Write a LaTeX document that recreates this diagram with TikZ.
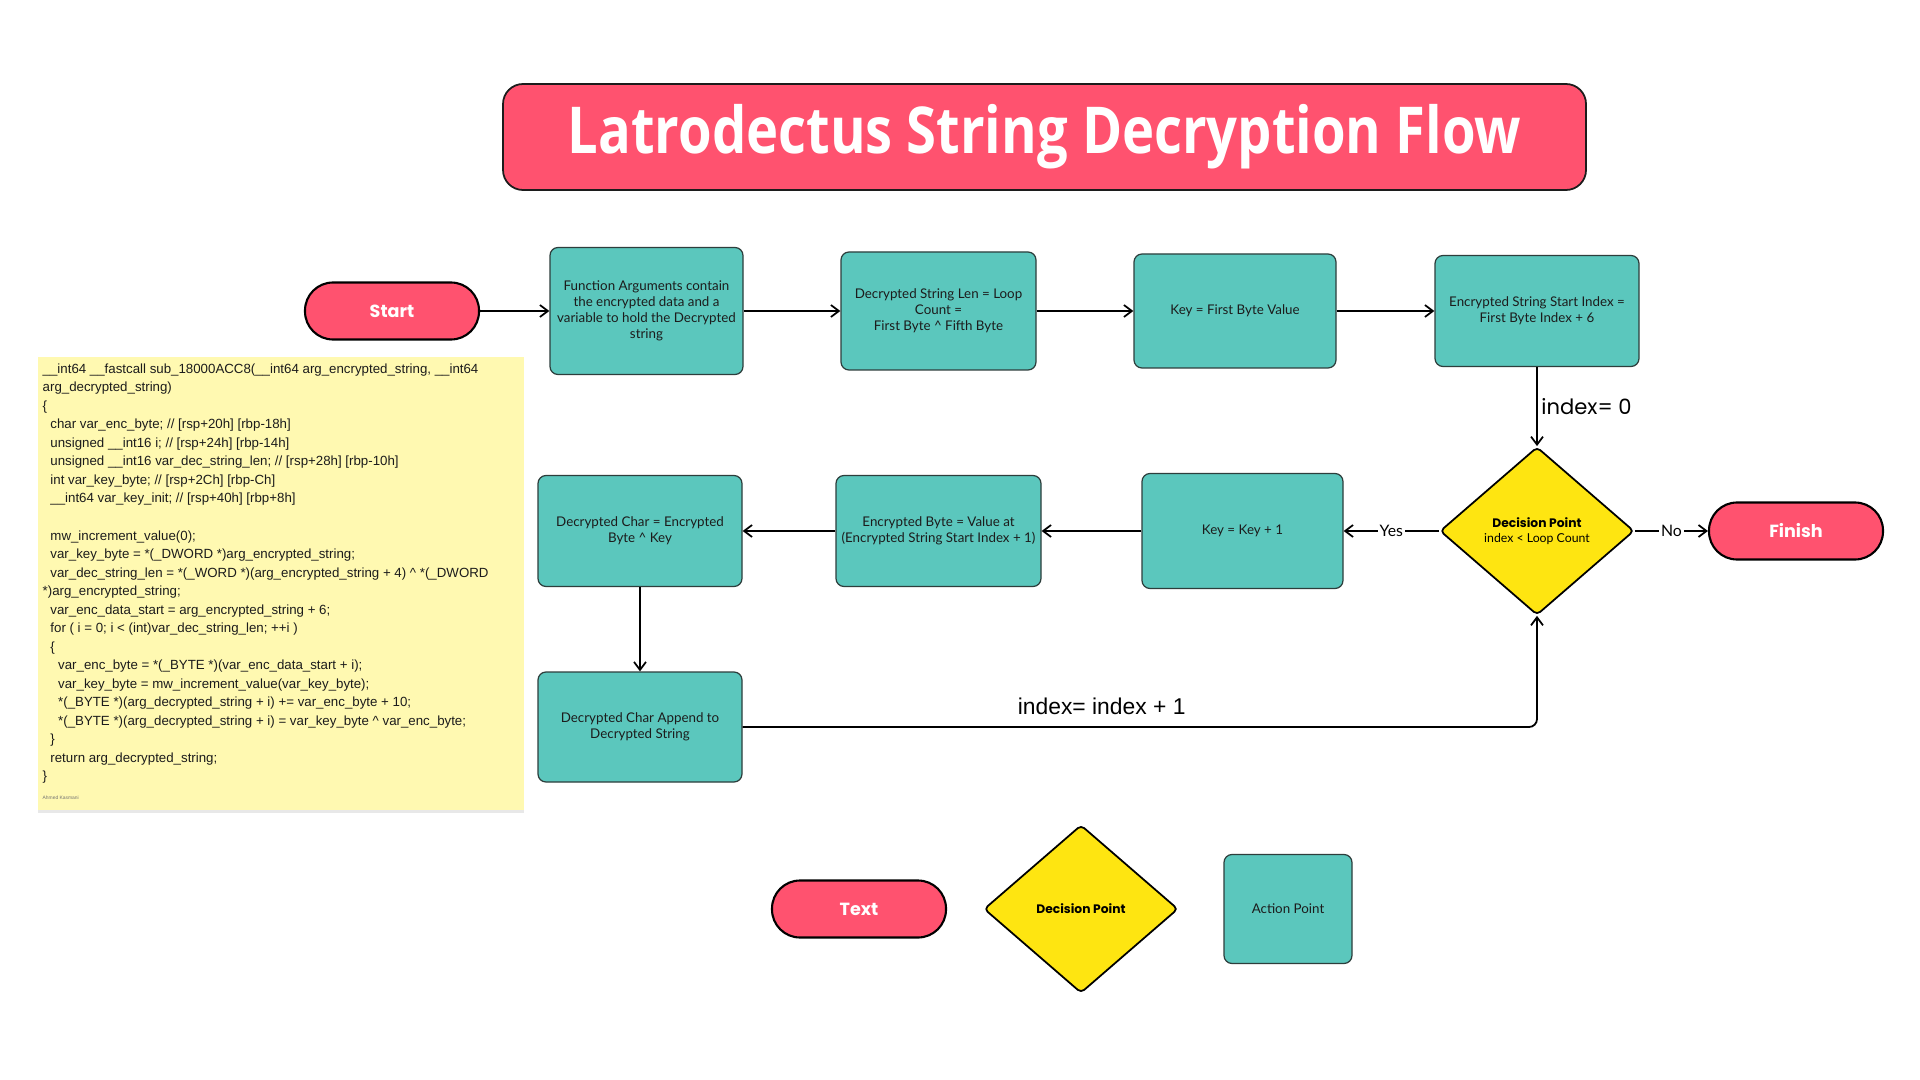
\documentclass[tikz,border=0pt]{standalone}
\usepackage{fontspec}
\setmainfont{Liberation Sans}
\newfontfamily\titlefont{Open Sans}
\newfontfamily\pillfont{Poppins}
\newfontfamily\boxfont{Lato}
\usetikzlibrary{arrows.meta,positioning,shapes.geometric,shadows}
\definecolor{latrored}{RGB}{255,82,111}
\definecolor{latroteal}{RGB}{91,199,189}
\definecolor{latroyellow}{RGB}{254,229,17}
\definecolor{latronote}{RGB}{255,249,177}
\definecolor{latroink}{RGB}{28,28,28}
\definecolor{latroedge}{RGB}{45,62,60}
\newcommand{\crt}{\textasciicircum}
\newcommand{\ind}{\hspace*{2.2pt}}

\begin{document}
\begin{tikzpicture}[
  font=\boxfont,
  pill/.style={draw=black, line width=0.6pt, fill=latrored, text=white, rounded corners=2.8mm,
    minimum width=1.74cm, minimum height=0.57cm, font=\pillfont\bfseries\fontsize{5}{6}\selectfont},
  actbox/.style={draw=latroedge, line width=0.35pt, fill=latroteal, rounded corners=0.8mm, align=center,
    text=latroink, inner sep=1pt, font=\boxfont\fontsize{3.8}{4.55}\selectfont},
  decide/.style={diamond, draw=black, line width=0.5pt, fill=latroyellow, rounded corners=1.2pt,
    minimum width=1.94cm, minimum height=1.68cm, inner sep=0pt, align=center,
    font=\boxfont\fontsize{3.5}{4.4}\selectfont},
  conn/.style={draw=black, line width=0.5pt, -{Straight Barb[length=0.8mm,width=1.2mm]}},
  flowlabel/.style={fill=white, inner sep=0.6pt, font=\boxfont\fontsize{4.5}{5.2}\selectfont},
  notepanel/.style={fill=latronote, minimum width=4.86cm, minimum height=4.53cm, inner sep=0pt,
    drop shadow={shadow xshift=0pt, shadow yshift=-0.8pt, opacity=0.18}},
  codetext/.style={align=left, inner sep=0pt, text=latroink, font=\fontsize{3.78}{5.27}\selectfont}
]
\fill[white] (0,0) rectangle (19.2,-10.8);

\node[draw=latroink, line width=0.5pt, fill=latrored, rounded corners=2mm, minimum width=10.83cm,
  minimum height=1.06cm, text=white] (title) at (10.445,-1.37)
  {\titlefont\bfseries\fontsize{18.4}{20}\selectfont\scalebox{0.84}[1]{Latrodectus String Decryption Flow}};

% top row
\node[pill] (start) at (3.92,-3.11) {Start};
\node[actbox, minimum width=1.93cm, minimum height=1.27cm] (fnargs) at (6.465,-3.11)
  {Function Arguments contain\\the encrypted data and a\\variable to hold the Decrypted\\string};
\node[actbox, minimum width=1.95cm, minimum height=1.18cm] (declen) at (9.385,-3.11)
  {Decrypted String Len = Loop\\Count =\\First Byte \crt{} Fifth Byte};
\node[actbox, minimum width=2.02cm, minimum height=1.14cm] (keyinit) at (12.35,-3.11)
  {Key = First Byte Value};
\node[actbox, minimum width=2.04cm, minimum height=1.11cm] (encstart) at (15.37,-3.11)
  {Encrypted String Start Index =\\First Byte Index + 6};

% loop row
\node[decide] (check) at (15.37,-5.31) {{\pillfont\bfseries Decision Point}\\index < Loop Count};
\node[pill] (finish) at (17.96,-5.31) {Finish};
\node[actbox, minimum width=2.01cm, minimum height=1.15cm] (keyinc) at (12.425,-5.31) {Key = Key + 1};
\node[actbox, minimum width=2.05cm, minimum height=1.11cm] (encbyte) at (9.385,-5.31)
  {Encrypted Byte = Value at\\(Encrypted String Start Index + 1)};
\node[actbox, minimum width=2.04cm, minimum height=1.11cm] (decchar) at (6.40,-5.31)
  {Decrypted Char = Encrypted\\Byte \crt{} Key};
\node[actbox, minimum width=2.04cm, minimum height=1.10cm] (append) at (6.40,-7.27)
  {Decrypted Char Append to\\Decrypted String};

\draw[conn] (start) -- (fnargs);
\draw[conn] (fnargs) -- (declen);
\draw[conn] (declen) -- (keyinit);
\draw[conn] (keyinit) -- (encstart);
\draw[conn] (encstart) -- node[anchor=west, inner sep=1pt, font=\pillfont\fontsize{6}{7}\selectfont] {index= 0} (check);
\draw[conn] (check) -- node[flowlabel] {Yes} (keyinc);
\draw[conn] (check) -- node[flowlabel] {No} (finish);
\draw[conn] (keyinc) -- (encbyte);
\draw[conn] (encbyte) -- (decchar);
\draw[conn] (decchar) -- (append);
\draw[conn, rounded corners=0.8mm] (append.east) -| node[pos=0.226, above=0pt, font=\fontsize{6.5}{7.5}\selectfont] {index= index + 1} (check.south);

% code note
\node[notepanel, anchor=north west] (note) at (0.37,-3.56) {};
\node[codetext, anchor=north west] (code) at ([xshift=0.05cm, yshift=-0.07cm]note.north west) {%
\_\_int64 \_\_fastcall sub\_18000ACC8(\_\_int64 arg\_encrypted\_string, \_\_int64\\
arg\_decrypted\_string)\\
\{\\
\ind char var\_enc\_byte; // [rsp+20h] [rbp-18h]\\
\ind unsigned \_\_int16 i; // [rsp+24h] [rbp-14h]\\
\ind unsigned \_\_int16 var\_dec\_string\_len; // [rsp+28h] [rbp-10h]\\
\ind int var\_key\_byte; // [rsp+2Ch] [rbp-Ch]\\
\ind \_\_int64 var\_key\_init; // [rsp+40h] [rbp+8h]\\
\mbox{}\\
\ind mw\_increment\_value(0);\\
\ind var\_key\_byte = *(\_DWORD *)arg\_encrypted\_string;\\
\ind var\_dec\_string\_len = *(\_WORD *)(arg\_encrypted\_string + 4) \crt{} *(\_DWORD\\
*)arg\_encrypted\_string;\\
\ind var\_enc\_data\_start = arg\_encrypted\_string + 6;\\
\ind for ( i = 0; i < (int)var\_dec\_string\_len; ++i )\\
\ind \{\\
\ind\ind var\_enc\_byte = *(\_BYTE *)(var\_enc\_data\_start + i);\\
\ind\ind var\_key\_byte = mw\_increment\_value(var\_key\_byte);\\
\ind\ind *(\_BYTE *)(arg\_decrypted\_string + i) += var\_enc\_byte + 10;\\
\ind\ind *(\_BYTE *)(arg\_decrypted\_string + i) = var\_key\_byte \crt{} var\_enc\_byte;\\
\ind \}\\
\ind return arg\_decrypted\_string;\\
\}};
\node[anchor=west, inner sep=0pt, text=black!55, font=\fontsize{1.4}{1.6}\selectfont] (sign) at (0.42,-7.98) {Ahmed Kasmani};

% legend
\node[pill] (legtext) at (8.59,-9.09) {Text};
\node[decide] (legdecide) at (10.81,-9.09) {\pillfont\bfseries Decision Point};
\node[actbox, minimum width=1.28cm, minimum height=1.09cm] (legaction) at (12.88,-9.09) {Action Point};
\end{tikzpicture}
\end{document}
